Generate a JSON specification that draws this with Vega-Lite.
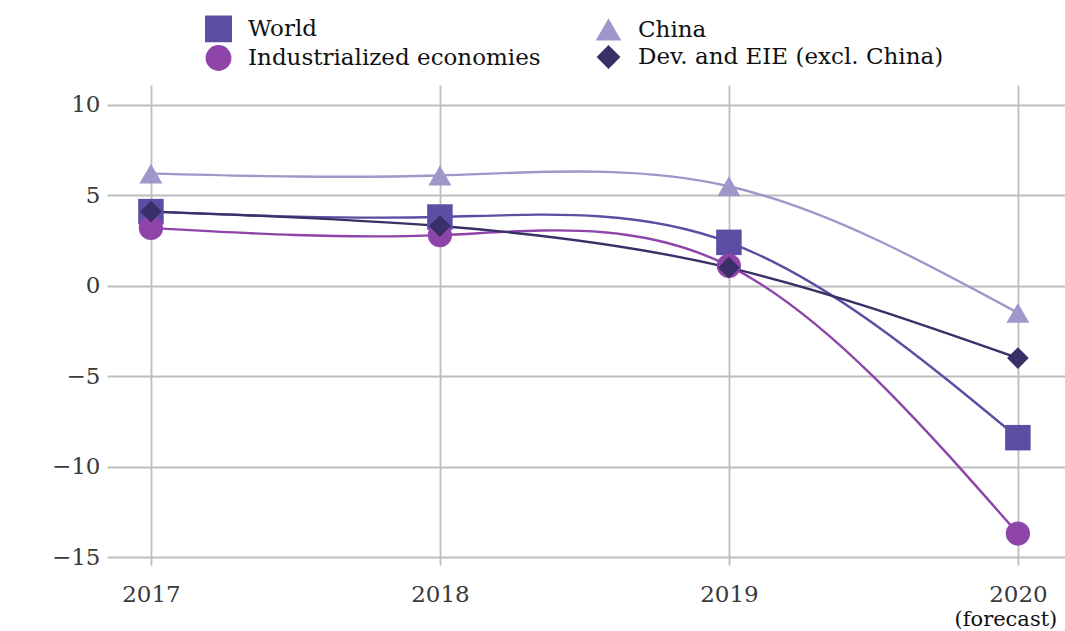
{
  "$schema": "https://vega.github.io/schema/vega-lite/v6.json",
  "width": 958,
  "height": 480,
  "autosize": {"type": "none"},
  "padding": {"left": 107, "top": 85, "right": 0, "bottom": 66},
  "background": "white",
  "config": {
    "view": {"stroke": null},
    "font": "DejaVu Serif",
    "axis": {
      "labelFont": "DejaVu Serif",
      "labelFontSize": 23,
      "labelColor": "#3a3a3a",
      "gridColor": "#bdbdbd",
      "gridWidth": 1.8,
      "gridOpacity": 1,
      "ticks": false,
      "domain": false,
      "title": null
    }
  },
  "data": {
    "values": [
      {"year": 2017, "series": "World", "value": 4.1},
      {"year": 2018, "series": "World", "value": 3.8},
      {"year": 2019, "series": "World", "value": 2.4},
      {"year": 2020, "series": "World", "value": -8.4},
      {"year": 2017, "series": "China", "value": 6.2},
      {"year": 2018, "series": "China", "value": 6.1},
      {"year": 2019, "series": "China", "value": 5.5},
      {"year": 2020, "series": "China", "value": -1.5},
      {"year": 2017, "series": "Industrialized economies", "value": 3.2},
      {"year": 2018, "series": "Industrialized economies", "value": 2.8},
      {"year": 2019, "series": "Industrialized economies", "value": 1.1},
      {"year": 2020, "series": "Industrialized economies", "value": -13.7},
      {"year": 2017, "series": "Dev. and EIE (excl. China)", "value": 4.1},
      {"year": 2018, "series": "Dev. and EIE (excl. China)", "value": 3.3},
      {"year": 2019, "series": "Dev. and EIE (excl. China)", "value": 1.0},
      {"year": 2020, "series": "Dev. and EIE (excl. China)", "value": -4.0}
    ]
  },
  "layer": [
    {
      "mark": {"type": "line", "interpolate": "natural", "strokeWidth": 2.4},
      "encoding": {
        "x": {
          "field": "year",
          "type": "quantitative",
          "scale": {"domain": [2016.848, 2020.163], "nice": false, "zero": false},
          "axis": {
            "values": [2017, 2018, 2019, 2020],
            "format": "d",
            "labelPadding": 18
          }
        },
        "y": {
          "field": "value",
          "type": "quantitative",
          "scale": {"domain": [-15.44, 11.1], "nice": false, "zero": false},
          "axis": {"values": [-15, -10, -5, 0, 5, 10], "labelPadding": 7}
        },
        "color": {
          "field": "series",
          "type": "nominal",
          "scale": {
            "domain": ["World", "Industrialized economies", "China", "Dev. and EIE (excl. China)"],
            "range": ["#5b4ea3", "#8e44a8", "#a196ca", "#3a2f66"]
          },
          "legend": {
            "title": null,
            "orient": "none",
            "legendX": 98,
            "legendY": -70,
            "columns": 2,
            "columnPadding": 52,
            "rowPadding": -13,
            "padding": 0,
            "labelFont": "DejaVu Serif",
            "labelFontSize": 23,
            "labelColor": "#111111",
            "labelOffset": 16,
            "labelLimit": 0,
            "symbolSize": 480,
            "symbolOpacity": 1
          }
        },
        "detail": {"field": "series"}
      }
    },
    {
      "mark": {"type": "point", "filled": true, "opacity": 1},
      "encoding": {
        "x": {"field": "year", "type": "quantitative"},
        "y": {"field": "value", "type": "quantitative"},
        "color": {"field": "series", "type": "nominal"},
        "shape": {
          "field": "series",
          "type": "nominal",
          "scale": {
            "domain": ["World", "Industrialized economies", "China", "Dev. and EIE (excl. China)"],
            "range": ["square", "circle", "triangle-up", "diamond"]
          },
          "legend": {
            "title": null,
            "orient": "none",
            "legendX": 98,
            "legendY": -70,
            "columns": 2,
            "columnPadding": 52,
            "rowPadding": -13,
            "padding": 0,
            "labelFont": "DejaVu Serif",
            "labelFontSize": 23,
            "labelColor": "#111111",
            "labelOffset": 16,
            "labelLimit": 0,
            "symbolSize": 480,
            "symbolOpacity": 1
          }
        },
        "size": {
          "field": "series",
          "type": "nominal",
          "scale": {
            "domain": ["World", "Industrialized economies", "China", "Dev. and EIE (excl. China)"],
            "range": [650, 470, 580, 280]
          },
          "legend": null
        }
      }
    },
    {
      "data": {"values": [{"year": 2020, "value": -18.47, "label": "(forecast)"}]},
      "mark": {"type": "text", "font": "DejaVu Serif", "fontSize": 21, "color": "#111111", "align": "center", "baseline": "middle", "dx": -12},
      "encoding": {
        "x": {"field": "year", "type": "quantitative"},
        "y": {"field": "value", "type": "quantitative"},
        "text": {"field": "label"}
      }
    }
  ]
}
